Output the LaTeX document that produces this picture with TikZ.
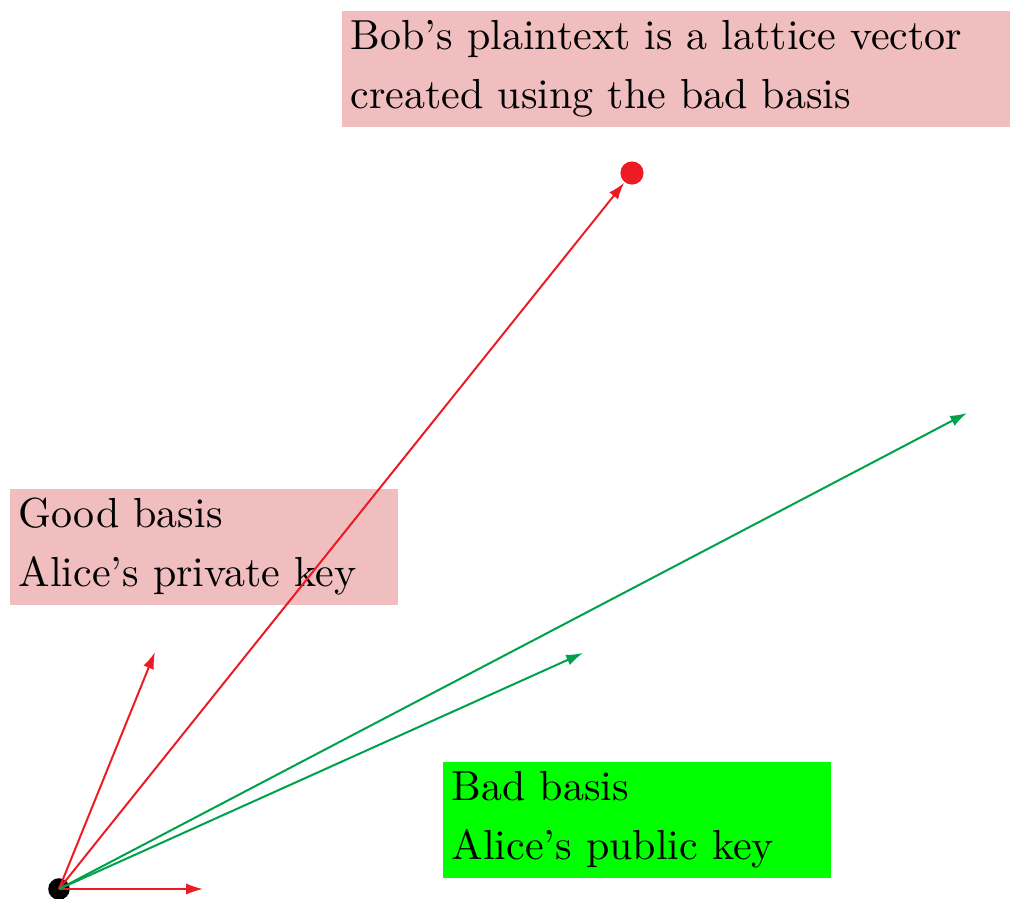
\documentclass[tikz,border=0pt]{standalone}
\usetikzlibrary{arrows.meta}
\definecolor{pinkbox}{RGB}{240,190,190}
\definecolor{greenbox}{RGB}{0,255,0}
\definecolor{vred}{RGB}{237,28,36}
\definecolor{vgreen}{RGB}{0,161,75}
\begin{document}
\begin{tikzpicture}[x=0.25pt,y=-0.25pt,
  label box/.style={anchor=north west, inner xsep=2.25pt, inner ysep=0pt,
    minimum width=97pt, minimum height=29pt, text width=92.5pt, align=left,
    font=\fontsize{10.5}{14.75}\selectfont},
  vec/.style={line width=0.5pt, -{Latex[length=4.2pt,width=2.8pt]}},
  dotstyle/.style={circle, inner sep=0pt, minimum size=5.4pt}]
\useasboundingbox (0,0) rectangle (1010,899);
\node[label box, fill=pinkbox, minimum width=167.25pt, text width=162.75pt] (bob) at (341,10)
  {Bob's plaintext is a lattice vector\\created using the bad basis};
\node[label box, fill=pinkbox] (good) at (9,488) {Good basis\\Alice's private key};
\node[label box, fill=greenbox] (bad) at (442,761) {Bad basis\\Alice's public key};
\node[dotstyle, fill=black] (o) at (59,889) {};
\node[dotstyle, fill=vred, minimum size=5.8pt] (p) at (632,173) {};
\coordinate (o1) at (59,889);
\coordinate (r1) at (203,889);
\coordinate (r2) at (155,652);
\coordinate (g1) at (583,653);
\coordinate (g2) at (967,413);
\draw[vec, vred] (o1) -- (r1);
\draw[vec, vred] (o1) -- (r2);
\draw[vec, vred] (o1) -- (p);
\draw[vec, vgreen] (o1) -- (g1);
\draw[vec, vgreen] (o1) -- (g2);
\end{tikzpicture}
\end{document}
